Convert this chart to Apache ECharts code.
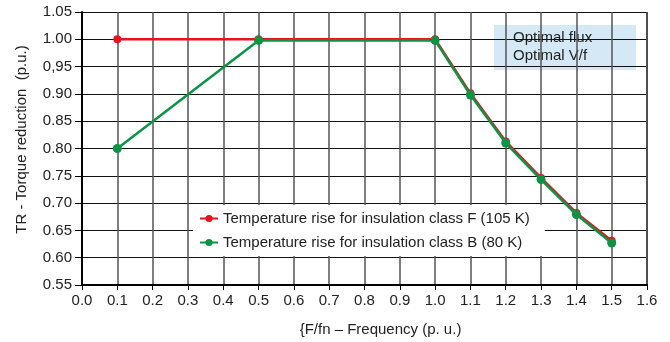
<!DOCTYPE html>
<html>
<head>
<meta charset="utf-8">
<script src="https://cdn.jsdelivr.net/npm/echarts@6/dist/echarts.min.js"></script>
<style>
  html, body { margin: 0; padding: 0; background: #fff; }
  #chart { width: 670px; height: 342px; }
</style>
</head>
<body>
<div id="chart"></div>
<script>
// frequency points (p.u.)
const freq = [0.1, 0.5, 1.0, 1.1, 1.2, 1.3, 1.4, 1.5];
// torque reduction, class F (105 K)
const classF = [1.0, 1.0, 1.0, 0.901, 0.813, 0.746, 0.682, 0.631];
// torque reduction, class B (80 K)
const classB = [0.80, 0.998, 0.998, 0.898, 0.81, 0.743, 0.679, 0.627];
const xTickLabels = ['0.0', '0.1', '0.2', '0.3', '0.4', '0.5', '0.6', '0.7', '0.8', '0.9', '1.0', '1.1', '1.2', '1.3', '1.4', '1.5', '1.6'];
const yTickLabels = ['0.55', '0.60', '0.65', '0.70', '0.75', '0.80', '0.85', '0.90', '0,95', '1.00', '1.05'];
const seriesNames = ['Temperature rise for insulation class F (105 K)', 'Temperature rise for insulation class B (80 K)'];

const font = 'Liberation Sans, Arial, sans-serif';
const myChart = echarts.init(document.getElementById('chart'));
const chartOption = {
  animation: false,
  textStyle: { fontFamily: font },
  grid: { left: 82, right: 23, top: 12, bottom: 56 },
  legend: {
    data: seriesNames,
    orient: 'vertical',
    left: 193,
    top: 205,
    backgroundColor: '#fff',
    padding: [6, 15, 6, 6],
    itemGap: 9,
    itemWidth: 18,
    itemHeight: 9,
    textStyle: { fontSize: 15, color: '#222', fontFamily: font }
  },
  xAxis: {
    type: 'value',
    min: 0,
    max: 1.6,
    interval: 0.1,
    name: '{F/fn – Frequency (p. u.)',
    nameLocation: 'middle',
    nameGap: 37,
    nameTextStyle: { fontSize: 15, color: '#222', padding: [0, 0, 0, 32] },
    axisLine: { onZero: false, lineStyle: { color: '#000', width: 2 } },
    axisTick: { show: true, length: 5, lineStyle: { color: '#000' } },
    axisLabel: {
      fontSize: 15,
      color: '#222',
      margin: 8,
      formatter: v => xTickLabels[Math.round(v * 10)]
    },
    splitLine: { show: true, lineStyle: { color: '#555', width: 1.5 } }
  },
  yAxis: {
    type: 'value',
    min: 0.55,
    max: 1.05,
    interval: 0.05,
    name: 'TR - Torque reduction  (p.u.)',
    nameLocation: 'middle',
    nameGap: 53,
    nameTextStyle: { fontSize: 15, color: '#222', padding: [0, 0, 0, 18] },
    axisLine: { show: true, lineStyle: { color: '#000', width: 2 } },
    axisTick: { show: true, length: 7, lineStyle: { color: '#000' } },
    axisLabel: {
      fontSize: 15,
      color: '#222',
      margin: 10,
      formatter: v => yTickLabels[Math.round((v - 0.55) / 0.05)]
    },
    splitLine: { show: true, lineStyle: { color: '#111', width: 1 } }
  },
  graphic: [{
    type: 'group',
    left: 494,
    top: 25,
    children: [{
      type: 'rect',
      shape: { x: 0, y: 0, width: 142, height: 45 },
      style: { fill: '#d5e8f6' }
    }, {
      type: 'text',
      x: 19,
      y: 4,
      style: { text: 'Optimal flux\nOptimal V/f', fontSize: 15, lineHeight: 18, fill: '#222', fontFamily: font }
    }]
  }, {
    // right border of the plot
    type: 'line',
    shape: { x1: 647, y1: 12, x2: 647, y2: 286 },
    style: { stroke: '#000', lineWidth: 1.5 }
  }],
  series: [{
    name: seriesNames[0],
    type: 'line',
    data: freq.map((f, i) => [f, classF[i]]),
    symbol: 'circle',
    symbolSize: 8,
    z: 2,
    itemStyle: { color: '#e8141d' },
    lineStyle: { color: '#e8141d', width: 2.5 }
  }, {
    name: seriesNames[1],
    type: 'line',
    data: freq.map((f, i) => [f, classB[i]]),
    symbol: 'circle',
    symbolSize: 9,
    z: 3,
    itemStyle: { color: '#0a9444' },
    lineStyle: { color: '#0a9444', width: 2.5 }
  }]
};
myChart.setOption(chartOption);
</script>
</body>
</html>
